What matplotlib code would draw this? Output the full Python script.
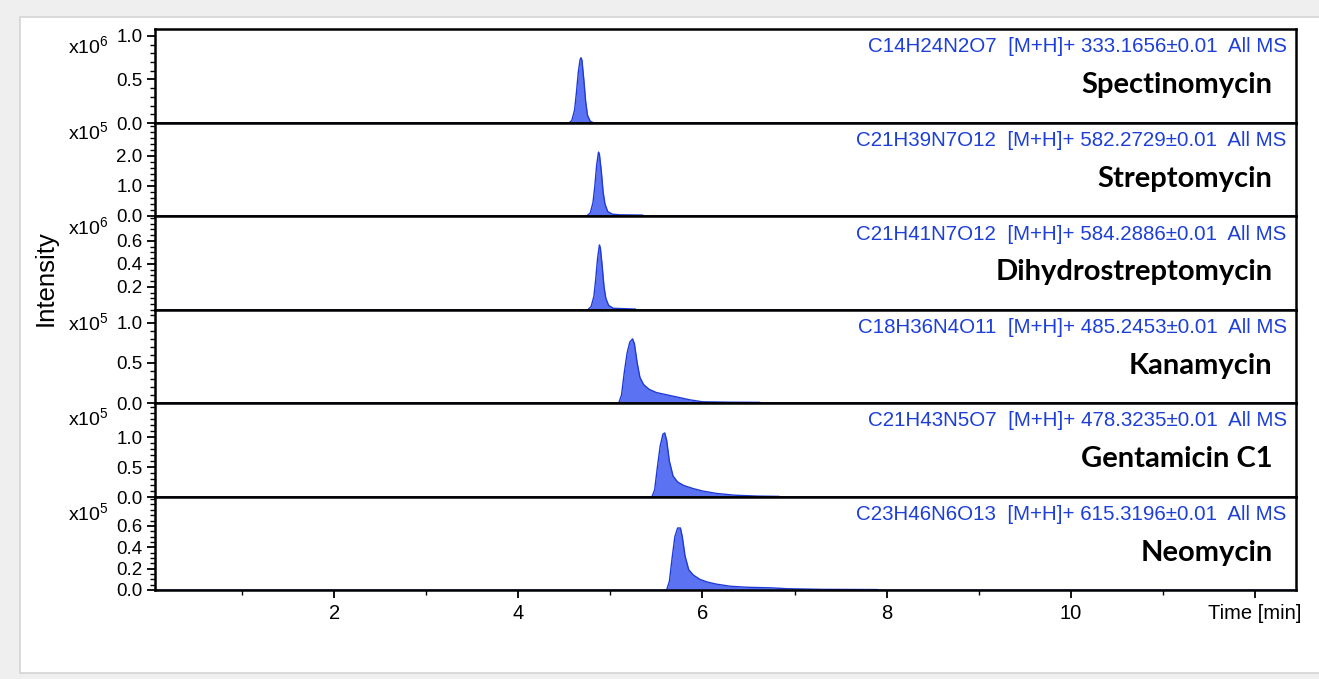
import matplotlib
matplotlib.use("Agg")
from matplotlib import pyplot as plt
from matplotlib.patches import Rectangle
from matplotlib.ticker import MultipleLocator, FormatStrFormatter

# 数据：每个化合物的色谱峰 (时间 min, 强度)
names = ["Spectinomycin", "Streptomycin", "Dihydrostreptomycin",
         "Kanamycin", "Gentamicin C1", "Neomycin"]
formulas = ["C14H24N2O7  [M+H]+ 333.1656±0.01  All MS",
            "C21H39N7O12  [M+H]+ 582.2729±0.01  All MS",
            "C21H41N7O12  [M+H]+ 584.2886±0.01  All MS",
            "C18H36N4O11  [M+H]+ 485.2453±0.01  All MS",
            "C21H43N5O7  [M+H]+ 478.3235±0.01  All MS",
            "C23H46N6O13  [M+H]+ 615.3196±0.01  All MS"]
exponents = [6, 5, 6, 5, 5, 5]

spec_t = [4.55, 4.58, 4.61, 4.63, 4.65, 4.67, 4.68, 4.69, 4.71, 4.73, 4.75, 4.78, 4.82]
spec_i = [0, 0.03, 0.15, 0.35, 0.58, 0.73, 0.75, 0.72, 0.50, 0.25, 0.09, 0.02, 0]

strep_t = [4.74, 4.78, 4.81, 4.83, 4.85, 4.87, 4.88, 4.90, 4.92, 4.94, 4.97, 5.02, 5.10, 5.35, 5.36]
strep_i = [0, 0.10, 0.45, 1.00, 1.70, 2.13, 2.05, 1.50, 0.80, 0.40, 0.15, 0.06, 0.04, 0.03, 0]

dhs_t = [4.75, 4.79, 4.82, 4.84, 4.86, 4.88, 4.89, 4.91, 4.93, 4.95, 4.98, 5.03, 5.27, 5.28]
dhs_i = [0, 0.03, 0.12, 0.27, 0.45, 0.565, 0.54, 0.38, 0.20, 0.10, 0.04, 0.015, 0.008, 0]

kana_t = [5.09, 5.12, 5.15, 5.18, 5.21, 5.24, 5.26, 5.29, 5.32, 5.36, 5.42, 5.50, 5.62,
          5.74, 5.86, 6.00, 6.30, 6.62, 6.64]
kana_i = [0, 0.10, 0.38, 0.62, 0.76, 0.80, 0.74, 0.50, 0.32, 0.23, 0.17, 0.13, 0.10,
          0.07, 0.04, 0.015, 0.01, 0.008, 0]

genta_t = [5.45, 5.48, 5.51, 5.54, 5.57, 5.59, 5.61, 5.64, 5.68, 5.73, 5.80, 5.90, 6.00,
           6.15, 6.35, 6.60, 6.83, 6.85]
genta_i = [0, 0.12, 0.50, 0.85, 1.05, 1.07, 0.95, 0.60, 0.35, 0.25, 0.19, 0.14, 0.10,
           0.06, 0.03, 0.015, 0.01, 0]

neo_t = [5.61, 5.64, 5.67, 5.70, 5.73, 5.76, 5.78, 5.81, 5.85, 5.90, 5.97, 6.05, 6.15,
         6.30, 6.50, 6.75, 6.92, 7.30, 7.90, 7.92]
neo_i = [0, 0.08, 0.30, 0.50, 0.58, 0.58, 0.50, 0.32, 0.19, 0.14, 0.10, 0.075, 0.055,
         0.035, 0.025, 0.02, 0.012, 0.006, 0.004, 0]

times = [spec_t, strep_t, dhs_t, kana_t, genta_t, neo_t]
intens = [spec_i, strep_i, dhs_i, kana_i, genta_i, neo_i]

# 每个面板的y轴设置
ylims = [1.08, 3.1, 0.817, 1.16, 1.57, 0.87]
yticks = [[0, 0.5, 1.0], [0, 1.0, 2.0], [0.2, 0.4, 0.6],
          [0, 0.5, 1.0], [0, 0.5, 1.0], [0, 0.2, 0.4, 0.6]]
yminor = [0.1, 0.2, 0.05, 0.1, 0.1, 0.05]
exp_off = [17, 9, 11, 13, 15, 16]

plt.rcParams["font.family"] = ["Liberation Sans", "DejaVu Sans"]
plt.rcParams["mathtext.fontset"] = "custom"
plt.rcParams["mathtext.rm"] = "Liberation Sans"
plt.rcParams["mathtext.it"] = "Liberation Sans:italic"

W, H = 1319, 679
fig = plt.figure(figsize=(W / 100, H / 100), dpi=100)
fig.patch.set_facecolor("#efefef")
fig.patches.append(Rectangle((20 / W, 1 - 673 / H), 1.0, (673 - 17) / H,
                             transform=fig.transFigure, facecolor="white",
                             edgecolor="#d4d4d4", linewidth=1.2, zorder=-10))

left, right = 155, 1296
tops = [29, 123, 216, 310, 403, 497, 590]
fill_c = "#5b72f3"
edge_c = "#1f3ad6"
blue_txt = "#1d3fd8"

axes = []
for k in range(6):
    ax = fig.add_axes([left / W, 1 - tops[k + 1] / H, (right - left) / W,
                       (tops[k + 1] - tops[k]) / H])
    axes.append(ax)
    t = [0.05] + times[k] + [12.45]
    y = [0] + intens[k] + [0]
    ax.fill_between(t, y, 0, color=fill_c, linewidth=0)
    ax.plot(t, y, color=edge_c, linewidth=1.0)
    ax.set_xlim(0.05, 12.45)
    ax.set_ylim(0, ylims[k])
    for s in ax.spines.values():
        s.set_linewidth(1.8)
    ax.set_yticks(yticks[k])
    ax.yaxis.set_major_formatter(FormatStrFormatter("%.1f"))
    ax.yaxis.set_minor_locator(MultipleLocator(yminor[k]))
    ax.tick_params(axis="y", which="major", direction="out", length=6, width=1.3,
                   labelsize=13.5, pad=3)
    ax.tick_params(axis="y", which="minor", direction="out", length=3.5, width=1.0)
    ax.text(0.992, 1 - 18 / (tops[k + 1] - tops[k]), formulas[k], transform=ax.transAxes,
            ha="right", va="center", color=blue_txt, fontsize=14.8)
    ax.text(0.9795, 1 - 56 / (tops[k + 1] - tops[k]), names[k], transform=ax.transAxes,
            ha="right", va="center", color="black", fontsize=21, fontweight="bold",
            family="Lato")
    fig.text(109 / W, 1 - (tops[k] + exp_off[k]) / H, "x10$^{%d}$" % exponents[k],
             ha="right", va="center", fontsize=14)
    if k < 5:
        ax.tick_params(axis="x", which="both", bottom=False, labelbottom=False)

# 底部x轴
ax = axes[-1]
ax.set_xticks([2, 4, 6, 8, 10, 12])
ax.set_xticklabels(["2", "4", "6", "8", "10", "Time [min]"])
ax.xaxis.set_minor_locator(MultipleLocator(1))
ax.tick_params(axis="x", which="major", direction="out", length=6, width=1.3,
               labelsize=14.5, pad=4)
ax.tick_params(axis="x", which="minor", direction="out", length=3.5, width=1.0)

fig.text(46 / W, 1 - 278 / H, "Intensity", rotation=90, ha="center", va="center",
         fontsize=18.5)

plt.savefig("out.png", dpi=100, facecolor=fig.get_facecolor())
